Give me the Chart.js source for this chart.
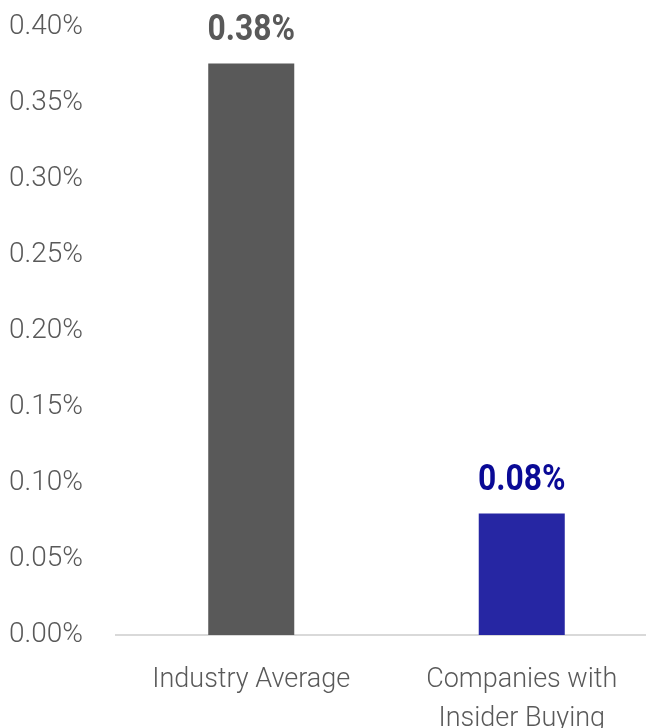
<!DOCTYPE html>
<html>
<head>
<meta charset="utf-8">
<script src="https://cdn.jsdelivr.net/npm/chart.js@4"></script>
<style>
  html, body { margin: 0; padding: 0; background: #fff; overflow: hidden; }
  #wrap { width: 657px; height: 728px; }
</style>
</head>
<body>
<div id="wrap"><canvas id="chart"></canvas></div>
<script>
const categories = ["Industry Average", ["Companies with", "Insider Buying"]];
const values = [0.376, 0.08];
const barColors = ["#595959", "#2626a3"];
const labelColors = ["#595959", "#0a0a96"];
const FONT = "Roboto, 'DejaVu Sans Condensed', sans-serif";

// bold value labels above the bars, squeezed a bit to look condensed
const valueLabels = {
  id: "valueLabels",
  afterDatasetsDraw(chart) {
    const ctx = chart.ctx;
    const meta = chart.getDatasetMeta(0);
    ctx.save();
    ctx.font = "bold 37px " + FONT;
    ctx.textAlign = "center";
    ctx.textBaseline = "middle";
    meta.data.forEach((bar, i) => {
      ctx.save();
      ctx.translate(bar.x, bar.y - 33);
      ctx.scale(0.86, 1);
      ctx.fillStyle = labelColors[i];
      ctx.fillText(values[i].toFixed(2) + "%", 0, 0);
      ctx.restore();
    });
    ctx.restore();
  },
};

new Chart(document.getElementById("chart"), {
  type: "bar",
  data: {
    labels: categories,
    datasets: [
      {
        data: values,
        backgroundColor: barColors,
        barPercentage: 0.318,
        categoryPercentage: 1,
      },
    ],
  },
  options: {
    responsive: true,
    maintainAspectRatio: false,
    animation: false,
    layout: { padding: { top: 27, left: 0, right: 0, bottom: 0 } },
    plugins: { legend: { display: false }, tooltip: { enabled: false } },
    scales: {
      y: {
        min: 0,
        max: 0.4,
        grid: { display: false, drawTicks: false },
        border: { display: false },
        ticks: {
          stepSize: 0.05,
          padding: 33,
          color: "#595959",
          font: { family: FONT, size: 28, weight: 300 },
          callback: (v) => v.toFixed(2) + "%",
        },
        afterFit: (s) => {
          s.width = 116;
          s.paddingTop = 0;
          s.paddingBottom = 0;
        },
      },
      x: {
        grid: { display: false, drawTicks: false },
        border: { display: true, color: "#d9d9d9", width: 2 },
        ticks: {
          padding: 26,
          color: "#595959",
          font: { family: FONT, size: 27, weight: 300, lineHeight: 1.45 },
          maxRotation: 0,
        },
        afterFit: (s) => { s.height = 93; },
      },
    },
  },
  plugins: [valueLabels],
});
</script>
</body>
</html>
